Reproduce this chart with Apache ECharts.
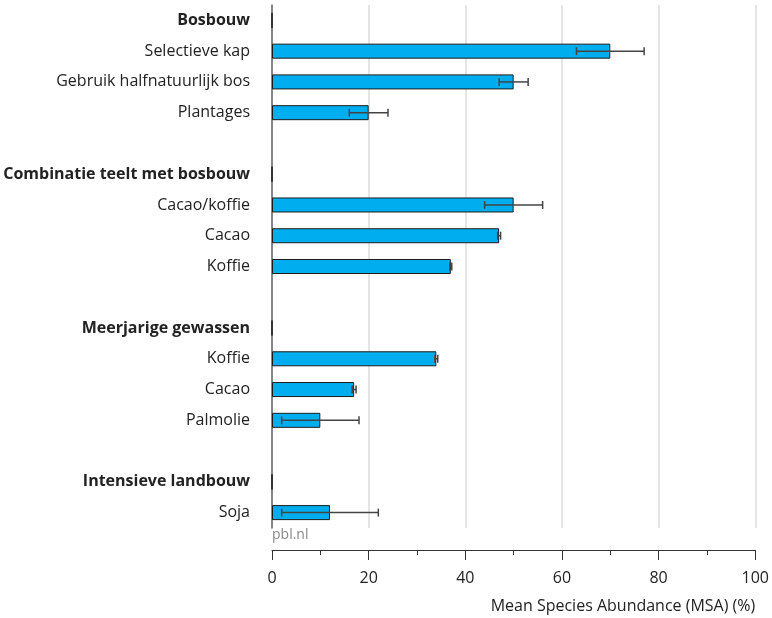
<!DOCTYPE html>
<html><head><meta charset="utf-8">
<script src="https://cdn.jsdelivr.net/npm/echarts@6/dist/echarts.min.js"></script>
<style>html,body{margin:0;padding:0;background:#fff}#c{width:772px;height:618px}</style>
</head><body><div id="c"></div>
<script>
const categories = ["Bosbouw","Selectieve kap","Gebruik halfnatuurlijk bos","Plantages","",
  "Combinatie teelt met bosbouw","Cacao/koffie","Cacao","Koffie","",
  "Meerjarige gewassen","Koffie","Cacao","Palmolie","",
  "Intensieve landbouw","Soja"];
const headerRows = [0,5,10,15];
const values = [0,70,50,20,null,0,50,47,37,null,0,34,17,10,null,0,12];
const errLow  = [null,63,47,16,null,null,44,46.7,36.8,null,null,33.7,16.6,2,null,null,2];
const errHigh = [null,77,53,24,null,null,56,47.3,37.2,null,null,34.3,17.4,18,null,null,22];
const xTicks = [0,20,40,60,80,100];

const rowKeys = categories.map((c,i)=>String(i));
const errData = categories.map((c,i)=> errLow[i]==null ? null : [i, errLow[i], errHigh[i]]).filter(d=>d);

const chart = echarts.init(document.getElementById('c'));
const FONT = "Open Sans";
const FS = 16;
chart.setOption({
  animation:false,
  grid:{left:272,right:16,top:5,bottom:90,containLabel:false},
  xAxis:{type:'value',min:0,max:100,interval:20,offset:22,
    axisLine:{show:true,lineStyle:{color:'#333',width:1}},
    axisTick:{show:true,length:10,lineStyle:{color:'#333'}},
    minorTick:{show:true,splitNumber:2,length:5,lineStyle:{color:'#333'}},
    splitLine:{show:true,lineStyle:{color:'#dcdcdc',width:1.5}},
    axisLabel:{color:'#222',fontFamily:FONT,fontSize:FS,margin:20,formatter:v=>xTicks.includes(v)?String(v):''},
    name:'Mean Species Abundance (MSA) (%)',nameLocation:'end',nameGap:0,
    nameTextStyle:{align:'right',verticalAlign:'top',fontFamily:FONT,fontSize:FS,color:'#222',padding:[48,0,0,0]}
  },
  yAxis:{type:'category',data:rowKeys,inverse:true,
    axisLine:{show:true,lineStyle:{color:'#666',width:1.5}},
    axisTick:{show:false},
    axisLabel:{margin:22,fontFamily:FONT,fontSize:FS,color:'#222',
      formatter:v=>{const i=Number(v);const t=categories[i];return headerRows.includes(i)?'{b|'+t+'}':t;},
      rich:{b:{fontWeight:'bold',fontFamily:FONT,fontSize:FS,color:'#222'}}}
  },
  graphic:[{type:'text',left:272,top:528,style:{text:'pbl.nl',fill:'#888',font:'14px "Open Sans"'}}],
  series:[
    {type:'bar',data:values,barWidth:15,
      itemStyle:{color:'#00AEEF',borderColor:'#1b1b1b',borderWidth:1}},
    {type:'custom',data:errData,z:10,
      renderItem:function(params,api){
        const y=api.value(0), lo=api.coord([api.value(1),y]), hi=api.coord([api.value(2),y]);
        const h=4;
        const st={stroke:'#444',lineWidth:1.5};
        return {type:'group',children:[
          {type:'line',shape:{x1:lo[0],y1:lo[1],x2:hi[0],y2:hi[1]},style:st},
          {type:'line',shape:{x1:lo[0],y1:lo[1]-h,x2:lo[0],y2:lo[1]+h},style:st},
          {type:'line',shape:{x1:hi[0],y1:hi[1]-h,x2:hi[0],y2:hi[1]+h},style:st}
        ]};
      },
      encode:{x:[1,2],y:0}}
  ]
});
</script></body></html>
